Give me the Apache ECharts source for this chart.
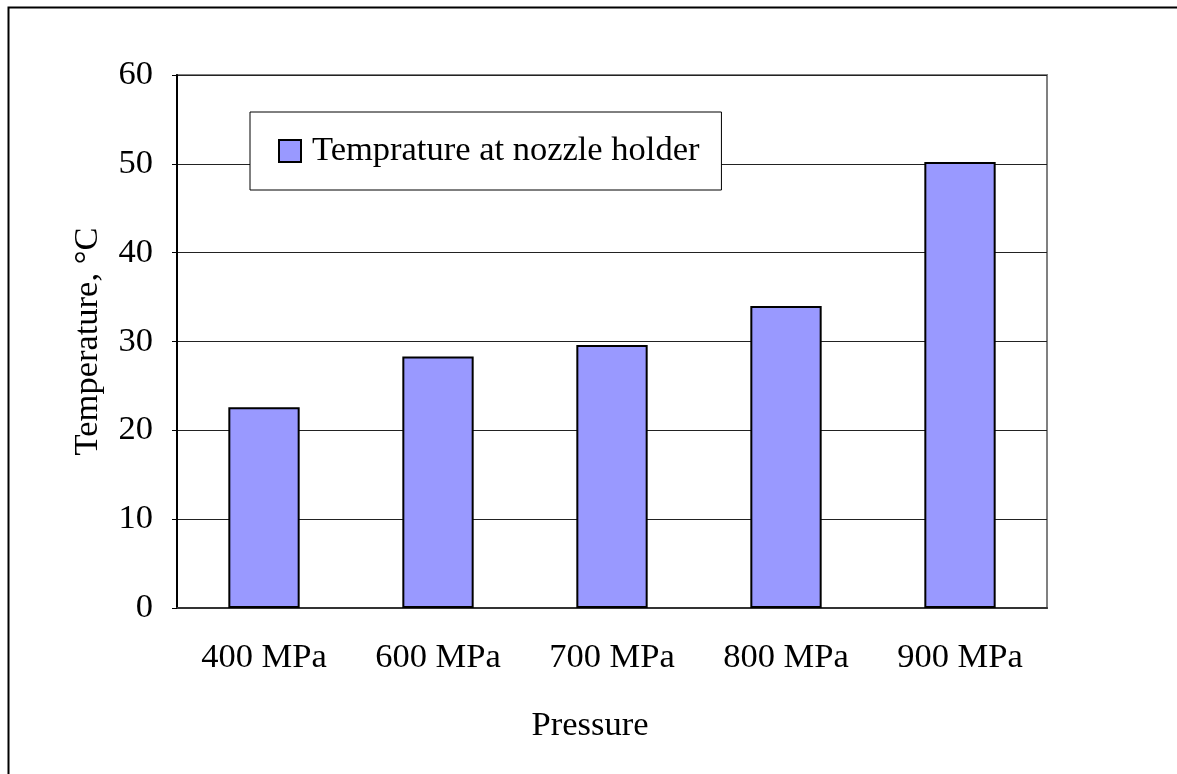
<!DOCTYPE html>
<html>
<head>
<meta charset="utf-8">
<script src="https://cdn.jsdelivr.net/npm/echarts@6/dist/echarts.min.js"></script>
<style>
html,body{margin:0;padding:0;background:#fff;}
#chart{width:1177px;height:774px;}
</style>
</head>
<body>
<div id="chart"></div>
<script>
const categories = ['400 MPa', '600 MPa', '700 MPa', '800 MPa', '900 MPa'];
const temperatures = [22.6, 28.3, 29.6, 34.0, 50.2];
const seriesName = 'Temprature at nozzle holder';
const yTicks = { min: 0, max: 60, interval: 10 };

const FONT = 'Liberation Serif';
const FS = 34.5;
const chart = echarts.init(document.getElementById('chart'), null, { renderer: 'canvas' });
chart.setOption({
  animation: false,
  backgroundColor: '#fff',
  textStyle: { fontFamily: FONT },
  graphic: [{
    type: 'rect', left: 6, top: 5, z: 100,
    shape: { x: 0, y: 0, width: 1300, height: 900 },
    style: { fill: 'none', stroke: '#000', lineWidth: 2 }
  }],
  grid: {
    left: 177, right: 130, top: 75, bottom: 166,
    show: true, borderColor: '#808080', borderWidth: 2, backgroundColor: 'transparent'
  },
  legend: {
    left: 250, top: 112,
    padding: [21, 22, 21, 28],
    backgroundColor: '#fff',
    borderColor: '#000', borderWidth: 1,
    itemWidth: 22, itemHeight: 22,
    icon: 'rect',
    textStyle: { fontFamily: FONT, fontSize: FS, color: '#000', lineHeight: 34, padding: [2, 0, 0, 6] },
    data: [seriesName]
  },
  xAxis: {
    type: 'category',
    data: categories,
    name: 'Pressure',
    nameLocation: 'middle',
    nameGap: 100,
    nameTextStyle: { fontFamily: FONT, fontSize: FS, color: '#000', verticalAlign: 'top', padding: [0, 44, 0, 0] },
    axisLine: { lineStyle: { color: '#333', width: 2 } },
    axisTick: { show: false },
    axisLabel: { fontFamily: FONT, fontSize: FS, color: '#000', margin: 32 }
  },
  yAxis: {
    type: 'value',
    min: yTicks.min, max: yTicks.max, interval: yTicks.interval,
    name: 'Temperature, °C',
    nameLocation: 'middle',
    nameGap: 72,
    nameTextStyle: { fontFamily: FONT, fontSize: FS, color: '#000' },
    axisLine: { show: true, lineStyle: { color: '#000', width: 2 } },
    axisTick: { show: true, inside: false, length: 5, lineStyle: { color: '#000', width: 1 } },
    axisLabel: { fontFamily: FONT, fontSize: FS, color: '#000', margin: 24 },
    splitLine: { show: true, lineStyle: { color: '#222', width: 1 } }
  },
  series: [{
    name: seriesName,
    type: 'bar',
    data: temperatures,
    barWidth: '41%',
    itemStyle: { color: '#9999FF', borderColor: '#000', borderWidth: 2 }
  }]
});
</script>
</body>
</html>
